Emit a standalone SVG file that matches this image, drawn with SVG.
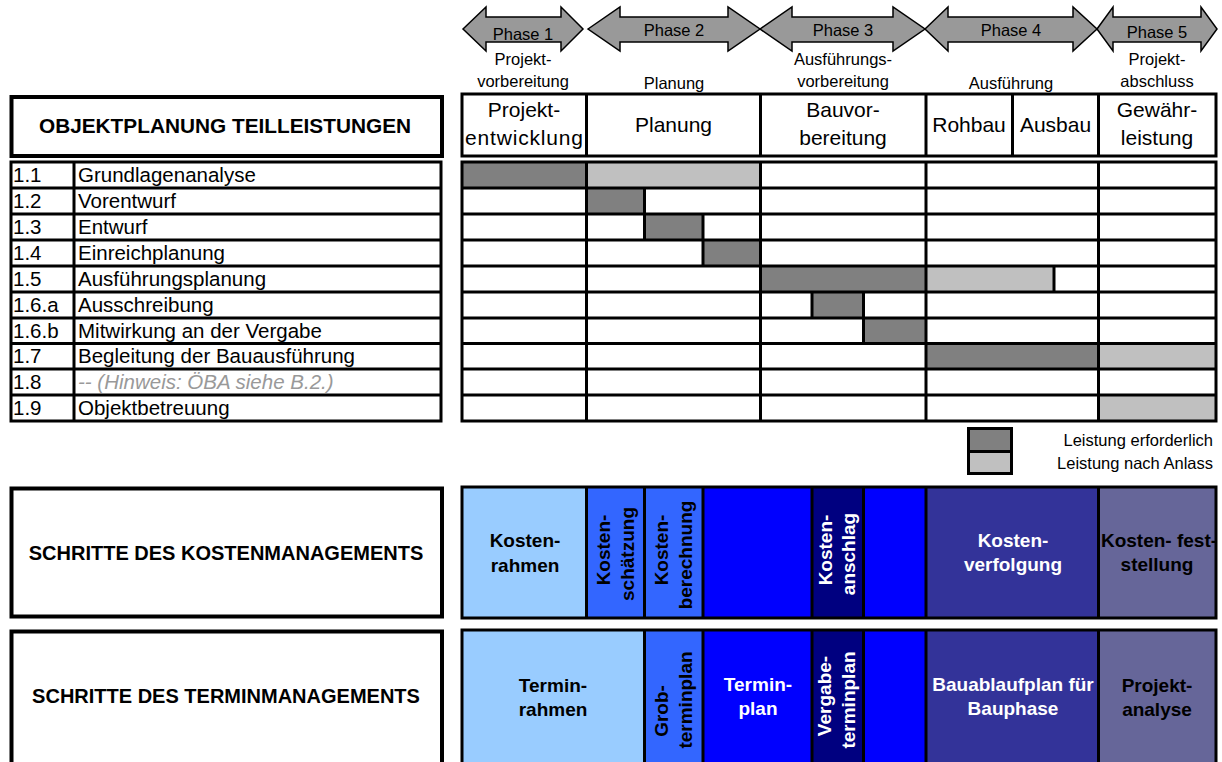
<svg xmlns="http://www.w3.org/2000/svg" width="1222" height="762" viewBox="0 0 1222 762">
<style>
text{font-family:"Liberation Sans",Arial,sans-serif;fill:#000}
.ph{font-size:16.5px;text-anchor:middle}
.hd{font-size:21px;text-anchor:middle}
.ls{font-size:20.5px}
.tb{font-size:20px;font-weight:bold;text-anchor:middle}
.b{font-size:19px;font-weight:bold;text-anchor:middle}
.w{fill:#fff}
.lg{font-size:16.5px;text-anchor:end}
.arrow{fill:#999;stroke:#000;stroke-width:1.5;stroke-linejoin:miter}
.frame{fill:none;stroke:#000;stroke-width:3}
.box{fill:#fff;stroke:#000;stroke-width:4}
.ln{stroke:#000;stroke-width:3}
.dk{fill:#808080}
.lt{fill:#c0c0c0}
</style>
<rect width="1222" height="762" fill="#fff"/>

<g id="phases">
  <g id="phase1">
    <path class="arrow" d="M463,29 L486,7 L486,17 L561,17 L561,7 L583,29 L561,51 L561,42 L486,42 L486,51 Z"/>
    <text class="ph" x="523" y="40">Phase 1</text>
    <text class="ph" x="523" y="65">Projekt-</text>
    <text class="ph" x="523" y="87">vorbereitung</text>
  </g>
  <g id="phase2">
    <path class="arrow" d="M588,29 L620,7 L620,17 L728,17 L728,7 L760,29 L728,51 L728,42 L620,42 L620,51 Z"/>
    <text class="ph" x="674" y="36">Phase 2</text>
    <text class="ph" x="674" y="89">Planung</text>
  </g>
  <g id="phase3">
    <path class="arrow" d="M760,29 L792,7 L792,17 L893,17 L893,7 L925,29 L893,51 L893,42 L792,42 L792,51 Z"/>
    <text class="ph" x="843" y="36">Phase 3</text>
    <text class="ph" x="843" y="65">Ausführungs-</text>
    <text class="ph" x="843" y="87">vorbereitung</text>
  </g>
  <g id="phase4">
    <path class="arrow" d="M925,29 L948,7 L948,17 L1073,17 L1073,7 L1097,29 L1073,51 L1073,42 L948,42 L948,51 Z"/>
    <text class="ph" x="1011" y="36">Phase 4</text>
    <text class="ph" x="1011" y="89">Ausführung</text>
  </g>
  <g id="phase5">
    <path class="arrow" d="M1097,29 L1113,7 L1113,17 L1201,17 L1201,7 L1217,29 L1201,51 L1201,42 L1113,42 L1113,51 Z"/>
    <text class="ph" x="1157" y="38">Phase 5</text>
    <text class="ph" x="1157" y="65">Projekt-</text>
    <text class="ph" x="1157" y="87">abschluss</text>
  </g>
</g>

<g id="title-objektplanung">
  <rect class="box" x="11.5" y="97" width="430.5" height="59"/>
  <text class="tb" x="225" y="133" style="font-size:20.8px">OBJEKTPLANUNG TEILLEISTUNGEN</text>
</g>

<g id="header-row">
  <rect class="frame" x="462" y="94" width="754" height="62" fill="#fff"/>
  <line class="ln" x1="586.5" y1="94" x2="586.5" y2="156"/>
  <line class="ln" x1="760.5" y1="94" x2="760.5" y2="156"/>
  <line class="ln" x1="926" y1="94" x2="926" y2="156"/>
  <line class="ln" x1="1012.5" y1="94" x2="1012.5" y2="156"/>
  <line class="ln" x1="1098.5" y1="94" x2="1098.5" y2="156"/>
  <text class="hd" x="524" y="117">Projekt-</text>
  <text class="hd" x="524" y="145" textLength="118" lengthAdjust="spacing">entwicklung</text>
  <text class="hd" x="673.5" y="132">Planung</text>
  <text class="hd" x="843" y="117">Bauvor-</text>
  <text class="hd" x="843" y="145">bereitung</text>
  <text class="hd" x="969" y="132">Rohbau</text>
  <text class="hd" x="1055.5" y="132">Ausbau</text>
  <text class="hd" x="1157" y="117">Gewähr-</text>
  <text class="hd" x="1157" y="145">leistung</text>
</g>

<g id="task-list">
  <rect class="frame" x="11" y="162" width="430" height="259" fill="#fff"/>
  <line class="ln" x1="74" y1="162" x2="74" y2="421"/>
  <line class="ln" x1="11" y1="188" x2="441" y2="188"/>
  <line class="ln" x1="11" y1="214" x2="441" y2="214"/>
  <line class="ln" x1="11" y1="240" x2="441" y2="240"/>
  <line class="ln" x1="11" y1="266" x2="441" y2="266"/>
  <line class="ln" x1="11" y1="292" x2="441" y2="292"/>
  <line class="ln" x1="11" y1="318" x2="441" y2="318"/>
  <line class="ln" x1="11" y1="343.5" x2="441" y2="343.5"/>
  <line class="ln" x1="11" y1="369" x2="441" y2="369"/>
  <line class="ln" x1="11" y1="395" x2="441" y2="395"/>
  <text class="ls" x="13" y="182">1.1</text><text class="ls" x="78" y="182">Grundlagenanalyse</text>
  <text class="ls" x="13" y="208">1.2</text><text class="ls" x="78" y="208">Vorentwurf</text>
  <text class="ls" x="13" y="234">1.3</text><text class="ls" x="78" y="234">Entwurf</text>
  <text class="ls" x="13" y="260">1.4</text><text class="ls" x="78" y="260">Einreichplanung</text>
  <text class="ls" x="13" y="286">1.5</text><text class="ls" x="78" y="286">Ausführungsplanung</text>
  <text class="ls" x="13" y="312">1.6.a</text><text class="ls" x="78" y="312">Ausschreibung</text>
  <text class="ls" x="13" y="338">1.6.b</text><text class="ls" x="78" y="338">Mitwirkung an der Vergabe</text>
  <text class="ls" x="13" y="363">1.7</text><text class="ls" x="78" y="363">Begleitung der Bauausführung</text>
  <text class="ls" x="13" y="389">1.8</text><text class="ls" x="78" y="389" style="fill:#999;font-style:italic">-- (Hinweis: ÖBA siehe B.2.)</text>
  <text class="ls" x="13" y="415">1.9</text><text class="ls" x="78" y="415">Objektbetreuung</text>
</g>

<g id="gantt">
  <rect x="462" y="162" width="754" height="259" fill="#fff"/>
  <rect class="dk" x="462" y="162" width="124.5" height="26"/>
  <rect class="lt" x="586.5" y="162" width="174" height="26"/>
  <rect class="dk" x="586.5" y="188" width="58" height="26"/>
  <rect class="dk" x="644.5" y="214" width="58.5" height="26"/>
  <rect class="dk" x="703" y="240" width="57.5" height="26"/>
  <rect class="dk" x="760.5" y="266" width="165.5" height="26"/>
  <rect class="lt" x="926" y="266" width="128" height="26"/>
  <rect class="dk" x="812" y="292" width="51.5" height="26"/>
  <rect class="dk" x="863.5" y="318" width="62.5" height="25.5"/>
  <rect class="dk" x="926" y="343.5" width="172.5" height="25.5"/>
  <rect class="lt" x="1098.5" y="343.5" width="117.5" height="25.5"/>
  <rect class="lt" x="1098.5" y="395" width="117.5" height="26"/>
  <rect class="frame" x="462" y="162" width="754" height="259"/>
  <line class="ln" x1="462" y1="188" x2="1216" y2="188"/>
  <line class="ln" x1="462" y1="214" x2="1216" y2="214"/>
  <line class="ln" x1="462" y1="240" x2="1216" y2="240"/>
  <line class="ln" x1="462" y1="266" x2="1216" y2="266"/>
  <line class="ln" x1="462" y1="292" x2="1216" y2="292"/>
  <line class="ln" x1="462" y1="318" x2="1216" y2="318"/>
  <line class="ln" x1="462" y1="343.5" x2="1216" y2="343.5"/>
  <line class="ln" x1="462" y1="369" x2="1216" y2="369"/>
  <line class="ln" x1="462" y1="395" x2="1216" y2="395"/>
  <line class="ln" x1="586.5" y1="162" x2="586.5" y2="421"/>
  <line class="ln" x1="760.5" y1="162" x2="760.5" y2="421"/>
  <line class="ln" x1="926" y1="162" x2="926" y2="421"/>
  <line class="ln" x1="1098.5" y1="162" x2="1098.5" y2="421"/>
  <line class="ln" x1="644.5" y1="188" x2="644.5" y2="240"/>
  <line class="ln" x1="703" y1="214" x2="703" y2="266"/>
  <line class="ln" x1="1054" y1="266" x2="1054" y2="292"/>
  <line class="ln" x1="812" y1="292" x2="812" y2="318"/>
  <line class="ln" x1="863.5" y1="292" x2="863.5" y2="343.5"/>
</g>

<g id="legend">
  <rect class="dk" x="968.5" y="428.5" width="43" height="23" stroke="#000" stroke-width="3"/>
  <rect class="lt" x="968.5" y="451.5" width="43" height="22" stroke="#000" stroke-width="3"/>
  <text class="lg" x="1213" y="446">Leistung erforderlich</text>
  <text class="lg" x="1213" y="469">Leistung nach Anlass</text>
</g>

<g id="title-kosten">
  <rect class="box" x="11.5" y="488.5" width="430.5" height="128"/>
  <text class="tb" x="226" y="560">SCHRITTE DES KOSTENMANAGEMENTS</text>
</g>

<g id="kosten-row">
  <rect x="462" y="487" width="124.5" height="131" fill="#99ccff"/>
  <rect x="586.5" y="487" width="116.5" height="131" fill="#3366ff"/>
  <rect x="703" y="487" width="109" height="131" fill="#0000ff"/>
  <rect x="812" y="487" width="51.5" height="131" fill="#000080"/>
  <rect x="863.5" y="487" width="62.5" height="131" fill="#0000ff"/>
  <rect x="926" y="487" width="172.5" height="131" fill="#333399"/>
  <rect x="1098.5" y="487" width="117.5" height="131" fill="#666699"/>
  <rect class="frame" x="462" y="487" width="754" height="131"/>
  <line class="ln" x1="586.5" y1="487" x2="586.5" y2="618"/>
  <line class="ln" x1="644.5" y1="487" x2="644.5" y2="618"/>
  <line class="ln" x1="703" y1="487" x2="703" y2="618"/>
  <line class="ln" x1="812" y1="487" x2="812" y2="618"/>
  <line class="ln" x1="863.5" y1="487" x2="863.5" y2="618"/>
  <line class="ln" x1="926" y1="487" x2="926" y2="618"/>
  <line class="ln" x1="1098.5" y1="487" x2="1098.5" y2="618"/>
  <text class="b" x="525" y="547">Kosten-</text>
  <text class="b" x="525" y="572">rahmen</text>
  <text class="b" transform="translate(610,550) rotate(-90)">Kosten-</text>
  <text class="b" transform="translate(634,554) rotate(-90)">schätzung</text>
  <text class="b" transform="translate(668,550) rotate(-90)">Kosten-</text>
  <text class="b" transform="translate(692,555) rotate(-90)">berechnung</text>
  <text class="b w" transform="translate(832,550) rotate(-90)">Kosten-</text>
  <text class="b w" transform="translate(855,554) rotate(-90)">anschlag</text>
  <text class="b w" x="1013" y="547">Kosten-</text>
  <text class="b w" x="1013" y="571">verfolgung</text>
  <text class="b" x="1159" y="547">Kosten- fest-</text>
  <text class="b" x="1157" y="571">stellung</text>
</g>

<g id="title-termin">
  <rect class="box" x="11.5" y="631.5" width="430.5" height="145"/>
  <text class="tb" x="226" y="703">SCHRITTE DES TERMINMANAGEMENTS</text>
</g>

<g id="termin-row">
  <rect x="462" y="630" width="182.5" height="140" fill="#99ccff"/>
  <rect x="644.5" y="630" width="58.5" height="140" fill="#3366ff"/>
  <rect x="703" y="630" width="109" height="140" fill="#0000ff"/>
  <rect x="812" y="630" width="51.5" height="140" fill="#000080"/>
  <rect x="863.5" y="630" width="62.5" height="140" fill="#0000ff"/>
  <rect x="926" y="630" width="172.5" height="140" fill="#333399"/>
  <rect x="1098.5" y="630" width="117.5" height="140" fill="#666699"/>
  <rect class="frame" x="462" y="630" width="754" height="140"/>
  <line class="ln" x1="644.5" y1="630" x2="644.5" y2="770"/>
  <line class="ln" x1="703" y1="630" x2="703" y2="770"/>
  <line class="ln" x1="812" y1="630" x2="812" y2="770"/>
  <line class="ln" x1="863.5" y1="630" x2="863.5" y2="770"/>
  <line class="ln" x1="926" y1="630" x2="926" y2="770"/>
  <line class="ln" x1="1098.5" y1="630" x2="1098.5" y2="770"/>
  <text class="b" x="553" y="692">Termin-</text>
  <text class="b" x="553" y="716">rahmen</text>
  <text class="b" transform="translate(668,711) rotate(-90)">Grob-</text>
  <text class="b" transform="translate(692,700) rotate(-90)">terminplan</text>
  <text class="b w" x="758" y="691">Termin-</text>
  <text class="b w" x="758" y="715">plan</text>
  <text class="b w" transform="translate(831,696) rotate(-90)">Vergabe-</text>
  <text class="b w" transform="translate(855,700) rotate(-90)">terminplan</text>
  <text class="b w" x="1013" y="691">Bauablaufplan für</text>
  <text class="b w" x="1013" y="715">Bauphase</text>
  <text class="b" x="1157" y="692">Projekt-</text>
  <text class="b" x="1157" y="716">analyse</text>
</g>

<g id="connectors"/>
</svg>
